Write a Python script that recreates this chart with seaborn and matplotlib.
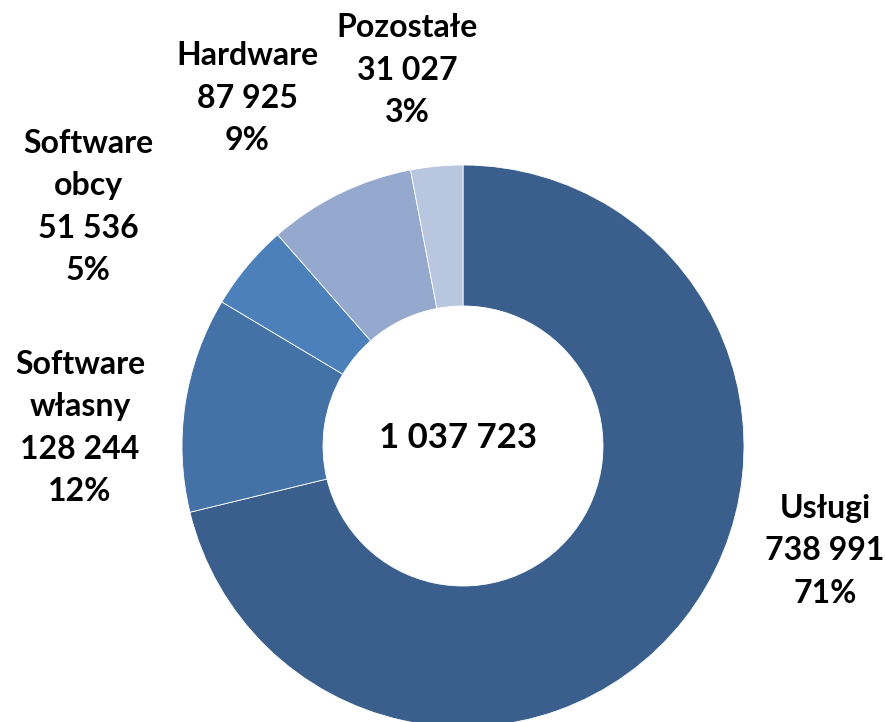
import matplotlib
matplotlib.use("Agg")
import matplotlib.pyplot as plt
import seaborn as sns

# Data
categories = ["Usługi", "Software\nwłasny", "Software\nobcy", "Hardware", "Pozostałe"]
values = [738991, 128244, 51536, 87925, 31027]
pct_labels = ["71%", "12%", "5%", "9%", "3%"]
colors = ["#3A5F8D", "#4472A6", "#4C80BA", "#95A9CF", "#B9C6E0"]

# label anchors in pixel space (x, y from top)
label_pos = [(825, 551), (80, 428), (88, 207), (247, 98), (407, 70)]

sns.set_theme(style="white")
plt.rcParams['font.family'] = ['Lato', 'DejaVu Sans']

fig = plt.figure(figsize=(8.86, 7.22), dpi=100)
ax = fig.add_axes([0, 0, 1, 1])

H = 722
cx, cy = 463, H - 446
R = 281

ax.pie(values, colors=colors, startangle=90, counterclock=False,
       center=(cx, cy), radius=R,
       wedgeprops=dict(width=141, edgecolor="white", linewidth=0.6))

ax.set_xlim(0, 886)
ax.set_ylim(0, H)
ax.set_aspect("equal")
ax.axis("off")

total = sum(values)
ax.text(cx - 5, H - 438, f"{total:,}".replace(",", " "), ha="center", va="center",
        fontsize=25, fontweight="bold", color="black")

for cat, v, p, (x, y) in zip(categories, values, pct_labels, label_pos):
    txt = f"{cat}\n{v:,}".replace(",", " ") + f"\n{p}"
    ax.text(x, H - y, txt, ha="center", va="center", fontsize=23,
            fontweight="bold", color="black", linespacing=1.55)

fig.savefig("out.png", dpi=100, facecolor="white")
